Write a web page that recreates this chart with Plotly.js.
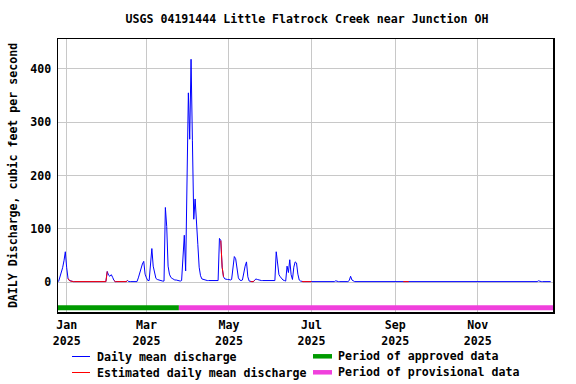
<!DOCTYPE html>
<html><head><meta charset="utf-8">
<script src="https://cdn.plot.ly/plotly-3.0.1.min.js"></script>
<style>html,body{margin:0;padding:0;background:#fff}#chart{width:576px;height:384px}</style>
</head><body><div id="chart"></div>
<script>
// ---- data (daily mean discharge, cfs), starting 2024-12-26 ----
const startDate = '2024-12-26';
const dec2024 = [1, 9, 16, 27, 40, 57];
const jan2025 = [27,7,3,2, 1,1,1,1,1,1,1,1,1,1, 1,1,1,1,1,1,1,1,1,1, 1,1,1,1,1,1, 20];
const feb2025 = [13,11,14,9,3, 1,1,1,1,1,1,1,1,1, 3, 1,1,1,1,1,1,1, 8,18,27,34,39,15];
const mar2025 = [8,3,3,35,63,30,15,7,5,4, 3,3,2,2,140,104,30,15,9,7, 5,4,4,3,3,2,3,42,88,21, 227];
const apr2025 = [355,268,418,265,118,156,103,71,28,12, 6,5,4,4,3,3,3,3,2,2, 2,2,3,82,78,28,10,6,5,5];
const may2025 = [5,4,5,30,48,44,22,8,4,3, 4,20,30,38,10,2,1,1,1,3, 6,5,4,4,3,3,3,2,2,2, 2];
const jun2025 = [2,2,2,3,57,28,14,10,6,4, 3,2,30,18,42,14,5,28,38,36, 15,4,2,1,1,1,1,1,1,1];
const jul2025 = [1,1,1,1,1,1,1,1,1,1, 1,1,1,1,1,1,1,1,2.5,1, 1,1,1,1,1,1,1,1,3,11, 4];
const aug2025 = [2,1,1,1,1,1,1,1,1,1, 1,1,1,1,1,1,1,1,1,1, 1,1,1,1,1,1,1,1,1,1, 1];
const sep2025 = [1,1,1,1,1,1,1,1,1,1, 1,1,1,1,1,1,1,1,1,1, 1,1,1,1,1,1,1,1,1,1];
const oct2025 = [1,1,1,1,1,1,1,1,1,1, 1,1,1,1,1,1,1,1,1,1, 1,1,1,1,1,1,1,1,1,1, 1];
const nov2025 = [1,1,1,1,1,1,1,1,1,1, 1,1,1,1,1,1,1,1,1,1, 1,1,1,1,1,1,1,1,1,1];
const dec2025 = [1,1,1,1,1,1,1,1,1,1, 1,1,1,1,1,2.5,1,1,1,1, 1,1,1,1,1];

// estimated-value periods
const estStart = ['2025-01-02','2025-02-05','2025-04-25','2025-05-17','2025-06-24','2025-09-07'];
const estEnd   = ['2025-01-31','2025-02-15','2025-04-27','2025-05-20','2025-07-01','2025-09-11'];

// approval periods
const approvedPeriod    = ['2024-12-25 12:00', '2025-03-25'];
const provisionalPeriod = ['2025-03-25', '2025-12-26 17:00'];

// axis ticks
const tickDates  = ['2025-01-01','2025-03-01','2025-05-01','2025-07-01','2025-09-01','2025-11-01'];
const tickLabels = ['Jan<br>2025','Mar<br>2025','May<br>2025','Jul<br>2025','Sep<br>2025','Nov<br>2025'];
const yTicks = [0, 100, 200, 300, 400];

// legend entries
const legendNames  = ['Daily mean discharge', 'Estimated daily mean discharge',
                      'Period of approved data', 'Period of provisional data'];

// ---- build ----
const values = [].concat(dec2024, jan2025, feb2025, mar2025, apr2025, may2025,
                         jun2025, jul2025, aug2025, sep2025, oct2025, nov2025, dec2025);
const t0 = Date.parse(startDate + 'T00:00:00Z');
const dates = values.map((_, i) => new Date(t0 + i * 86400000).toISOString().slice(0, 10));
const isEst = d => estStart.some((s, k) => d >= s && d <= estEnd[k]);
const estValues = values.map((v, i) => isEst(dates[i]) ? v : null);

const BAR_LEVEL = -48;
const FONT = {family: 'DejaVu Sans Mono, monospace', size: 11.6, color: '#000', weight: 'bold'};
const COLORS = ['#0000ff', '#ff0000', '#009a00', '#f040dc'];
const WIDTHS = [1, 1, 4.5, 4.5];

const traces = [
  {x: dates, y: values, type: 'scatter', mode: 'lines', name: legendNames[0],
   line: {color: COLORS[0], width: 1}, hoverinfo: 'skip'},
  {x: dates, y: estValues, type: 'scatter', mode: 'lines', name: legendNames[1],
   line: {color: COLORS[1], width: 1}, connectgaps: false, hoverinfo: 'skip'},
  {x: approvedPeriod, y: approvedPeriod.map(() => BAR_LEVEL), type: 'scatter', mode: 'lines',
   name: legendNames[2], line: {color: COLORS[2], width: 5}, hoverinfo: 'skip'},
  {x: provisionalPeriod, y: provisionalPeriod.map(() => BAR_LEVEL), type: 'scatter', mode: 'lines',
   name: legendNames[3], line: {color: COLORS[3], width: 5}, hoverinfo: 'skip'}
];

// legend drawn below the plot (paper coordinates from pixel positions)
const PL = 58, PW = 495, PB = 312, PH = 273;
const px = v => (v - PL) / PW, py = v => (PB - v) / PH;
const legendSlots = [
  {sx0: 72, sx1: 90, tx: 95, y: 356.5},
  {sx0: 72, sx1: 90, tx: 95, y: 372.5},
  {sx0: 313, sx1: 332, tx: 335.5, y: 356.3},
  {sx0: 313, sx1: 332, tx: 335.5, y: 372.3}
];
const shapes = legendSlots.map((s, i) => ({
  type: 'line', xref: 'paper', yref: 'paper', x0: px(s.sx0), x1: px(s.sx1), y0: py(s.y), y1: py(s.y),
  line: {color: COLORS[i], width: WIDTHS[i]}
}));
const annotations = legendSlots.map((s, i) => ({
  xref: 'paper', yref: 'paper', x: px(s.tx), y: py(s.y), xanchor: 'left', yanchor: 'middle',
  text: legendNames[i], showarrow: false, font: FONT
}));

const layout = {
  width: 576, height: 384,
  margin: {l: 58, r: 23, t: 39, b: 72, autoexpand: false},
  paper_bgcolor: '#fff', plot_bgcolor: '#fff',
  font: FONT,
  title: {text: 'USGS 04191444 Little Flatrock Creek near Junction OH', font: FONT,
          xref: 'container', x: 307/576, xanchor: 'center',
          yref: 'container', y: 1 - 19/384, yanchor: 'middle'},
  xaxis: {type: 'date', range: ['2024-12-25 14:00', '2025-12-26 17:00'],
          tickmode: 'array', tickvals: tickDates, ticktext: tickLabels,
          showgrid: true, gridcolor: '#c8c8c8', gridwidth: 1,
          showline: true, mirror: true, linecolor: '#000', linewidth: 1.5,
          ticks: 'outside', ticklen: 2, tickcolor: 'rgba(0,0,0,0)',
          zeroline: false, tickfont: FONT, fixedrange: true},
  yaxis: {range: [-56, 456], tickmode: 'array', tickvals: yTicks,
          showgrid: true, gridcolor: '#c8c8c8', gridwidth: 1,
          showline: true, mirror: true, linecolor: '#000', linewidth: 1.5,
          ticks: 'outside', ticklen: 3, tickcolor: 'rgba(0,0,0,0)',
          zeroline: false, tickfont: FONT, fixedrange: true,
          title: {text: 'DAILY Discharge, cubic feet per second', font: FONT, standoff: 10}},
  showlegend: false,
  shapes: shapes,
  annotations: annotations
};

Plotly.newPlot('chart', traces, layout, {staticPlot: true, displayModeBar: false});
</script>
</body></html>
